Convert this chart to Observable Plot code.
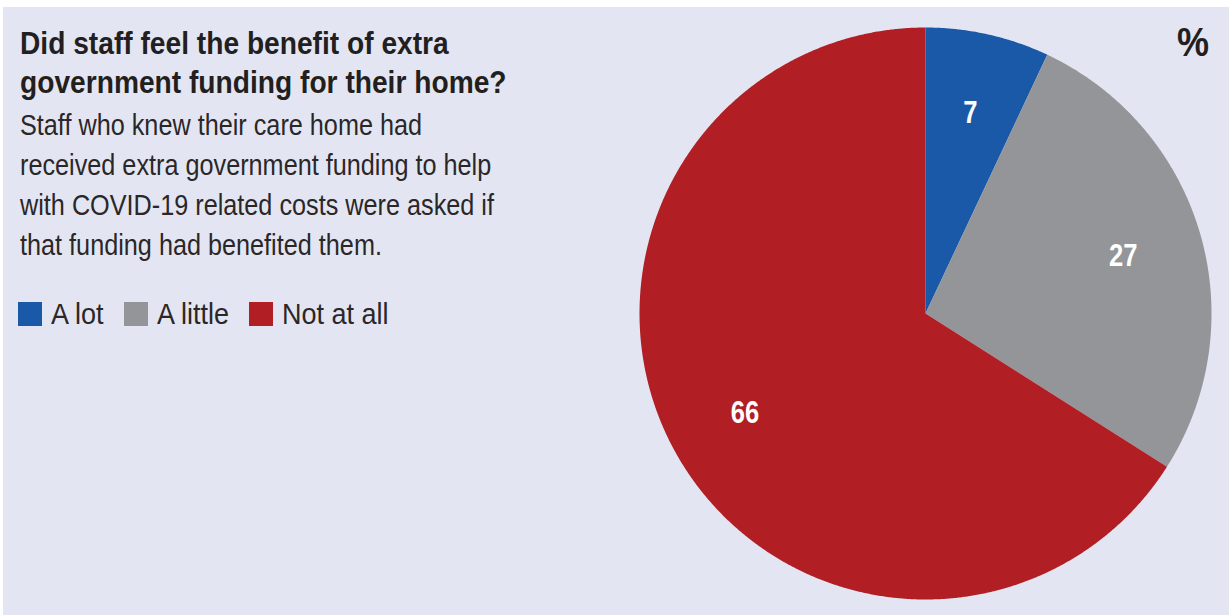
<!DOCTYPE html>
<html>
<head>
<meta charset="utf-8">
<script src="https://cdn.jsdelivr.net/npm/d3@7"></script>
<script src="https://cdn.jsdelivr.net/npm/@observablehq/plot@0.6"></script>
<style>
  html, body { margin: 0; padding: 0; background: #ffffff; }
  body { width: 1229px; height: 615px; overflow: hidden; position: relative;
         font-family: "Liberation Sans", Arial, sans-serif; color: #231f20; }
  #panel { position: absolute; left: 3px; top: 7px; width: 1226px; height: 608px; background: #e3e6f2; }
  #title { position: absolute; left: 17px; top: 17px; font-size: 32px; font-weight: bold; line-height: 39px; white-space: nowrap;
           transform: scaleX(0.88); transform-origin: left top; }
  #subtitle { position: absolute; left: 17px; top: 98px; font-size: 29px; line-height: 40px; white-space: nowrap;
              transform: scaleX(0.87); transform-origin: left top; color: #2b2728; }
  #legend { position: absolute; left: 15px; top: 292px; height: 30px; font-size: 30px; white-space: nowrap; display: flex; align-items: center; color: #2b2728; }
  #legend .item { display: flex; align-items: center; }
  #legend .sw { width: 24px; height: 24px; margin-right: 9px; flex: none; }
  #legend .tx { display: inline-block; transform: scaleX(0.9); transform-origin: left center; }
  #pct { position: absolute; left: 1174px; top: 13px; font-size: 40px; font-weight: bold; transform: scaleX(0.9); transform-origin: left top; }
  #chart { position: absolute; left: 0; top: 0; }
</style>
</head>
<body>
<div id="panel">
  <div id="chart"></div>
  <div id="title">Did staff feel the benefit of extra<br>government funding for their home?</div>
  <div id="subtitle">Staff who knew their care home had<br>received extra government funding to help<br>with COVID-19 related costs were asked if<br>that funding had benefited them.</div>
  <div id="legend"></div>
  <div id="pct">%</div>
</div>
<script>
const categories = ["A lot", "A little", "Not at all"];
const values = [7, 27, 66];
const colors = ["#1a59a8", "#939598", "#b11e23"];

const data = categories.map((c, i) => ({category: c, value: values[i]}));
const arcs = d3.pie().sort(null).value(d => d.value)(data);

// slice outlines on the unit circle, clockwise from 12 o'clock
const slicePts = [];
for (const a of arcs) {
  const cat = a.data.category;
  slicePts.push({category: cat, x: 0, y: 0});
  const n = Math.max(2, Math.ceil((a.endAngle - a.startAngle) / 0.005));
  for (let k = 0; k <= n; k++) {
    const t = a.startAngle + (a.endAngle - a.startAngle) * k / n;
    slicePts.push({category: cat, x: Math.sin(t), y: Math.cos(t)});
  }
}
const labelR = 0.72;
const labels = arcs.map(a => {
  const m = (a.startAngle + a.endAngle) / 2;
  return {category: a.data.category, value: a.data.value, x: labelR * Math.sin(m), y: labelR * Math.cos(m)};
});

const cx = 922, cy = 306, R = 286;
const chart = Plot.plot({
  width: 1226,
  height: 608,
  margin: 0,
  style: {background: "transparent", overflow: "visible"},
  x: {domain: [-1, 1], range: [cx - R, cx + R], axis: null},
  y: {domain: [-1, 1], range: [cy + R, cy - R], axis: null},
  color: {domain: categories, range: colors},
  marks: [
    Plot.line(slicePts, {x: "x", y: "y", z: "category", fill: "category", stroke: "none", curve: "linear-closed"}),
    Plot.text(labels, {x: "x", y: "y", text: d => String(d.value), fill: "white", fontSize: 32, fontWeight: "bold",
      fontFamily: "'Liberation Sans', Arial, sans-serif"})
  ]
});
document.getElementById("chart").appendChild(chart);

// narrow the label glyphs around their own anchor
chart.querySelectorAll("text").forEach(el => {
  const tr = el.getAttribute("transform");
  if (tr) {
    el.setAttribute("transform", tr + " scale(0.8,1)");
  } else {
    const x = +el.getAttribute("x") || 0, y = +el.getAttribute("y") || 0;
    el.setAttribute("transform", `translate(${x},${y}) scale(0.8,1) translate(${-x},${-y})`);
  }
});

const legend = document.getElementById("legend");
categories.forEach((c, i) => {
  const it = document.createElement("div");
  it.className = "item";
  const sw = document.createElement("div");
  sw.className = "sw";
  sw.style.background = colors[i];
  const tx = document.createElement("span");
  tx.className = "tx";
  tx.textContent = c;
  it.appendChild(sw); it.appendChild(tx);
  legend.appendChild(it);
  const w = tx.getBoundingClientRect().width; // scaled width
  const full = tx.offsetWidth;
  tx.style.marginRight = (-(full - w) + (i < categories.length - 1 ? 20 : 0)) + "px";
});
</script>
</body>
</html>
